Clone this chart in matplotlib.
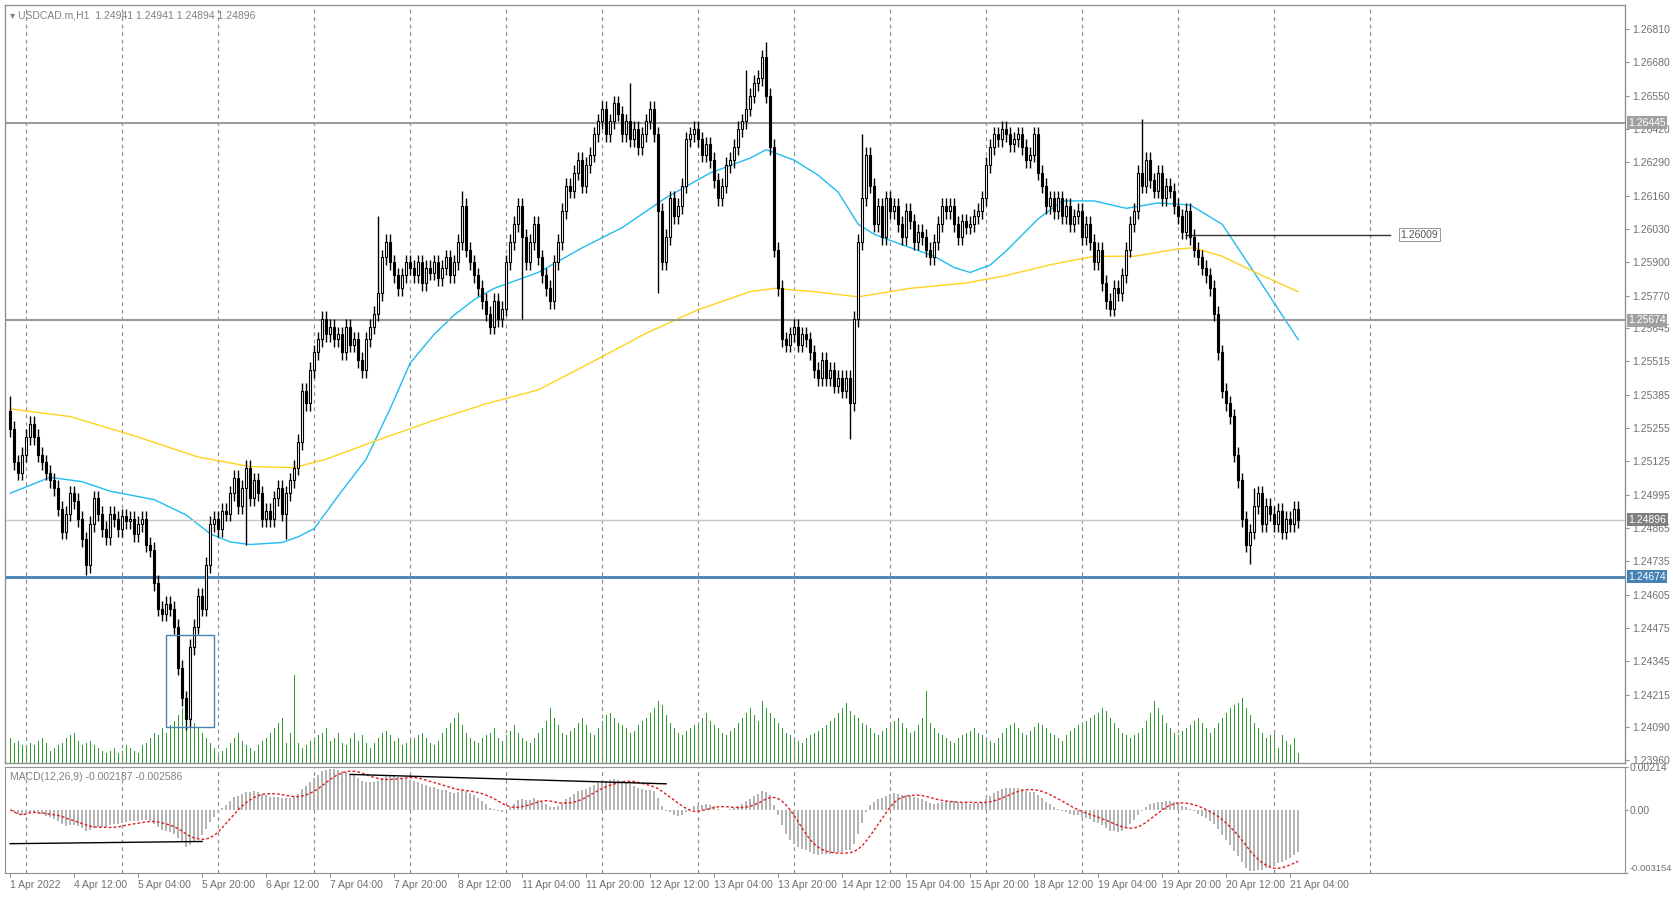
import numpy as np
import matplotlib
matplotlib.use("Agg")
import matplotlib.pyplot as plt
from matplotlib.patches import Rectangle

plt.rcParams["font.family"] = ["Liberation Sans", "DejaVu Sans"]

# ---------------- data ----------------
closes = [
 1.2525,1.2512,1.2508,1.2515,1.2522,1.2527,1.2522,1.2515,1.2512,1.2508,
 1.2505,1.2502,1.2494,1.2485,1.2492,1.2500,1.2497,1.2490,1.2482,1.2472,
 1.2488,1.2498,1.2492,1.2486,1.2483,1.2492,1.2490,1.2486,1.2491,1.2489,
 1.2490,1.2484,1.2488,1.2490,1.2480,1.2478,1.2465,1.2455,1.2453,1.2457,
 1.2455,1.2448,1.2432,1.2420,1.2412,1.2440,1.2448,1.2460,1.2455,1.2472,
 1.2488,1.2490,1.2486,1.2493,1.2492,1.2500,1.2506,1.2495,1.2502,1.2510,
 1.2498,1.2505,1.2500,1.2490,1.2493,1.2490,1.2498,1.2502,1.2492,1.2500,
 1.2505,1.2510,1.2520,1.2540,1.2535,1.2548,1.2555,1.2560,1.2568,1.2562,
 1.2565,1.2560,1.2562,1.2555,1.2565,1.2558,1.2560,1.2552,1.2548,1.2560,
 1.2565,1.2570,1.2578,1.2592,1.2598,1.2590,1.2585,1.2580,1.2585,1.2590,
 1.2588,1.2585,1.2590,1.2582,1.2588,1.2586,1.2590,1.2584,1.2588,1.2592,
 1.2585,1.2590,1.2598,1.2612,1.2595,1.2590,1.2585,1.2580,1.2575,1.2570,
 1.2565,1.2575,1.2568,1.2572,1.2590,1.2598,1.2605,1.2612,1.2600,1.2590,
 1.2598,1.2605,1.2592,1.2585,1.2580,1.2575,1.2590,1.2598,1.2610,1.2620,
 1.2618,1.2625,1.2630,1.2620,1.2628,1.2632,1.2640,1.2645,1.2650,1.2640,
 1.2645,1.2652,1.2648,1.2640,1.2645,1.2638,1.2642,1.2635,1.2640,1.2645,
 1.2650,1.2640,1.2610,1.2590,1.2600,1.2615,1.2608,1.2612,1.2620,1.2638,
 1.2640,1.2642,1.2638,1.2632,1.2636,1.2630,1.2622,1.2615,1.2620,1.2628,
 1.2630,1.2635,1.2642,1.2645,1.2650,1.2655,1.2660,1.2662,1.2670,1.2655,
 1.2635,1.2595,1.2580,1.2560,1.2558,1.2562,1.2565,1.2558,1.2562,1.2560,
 1.2555,1.2548,1.2545,1.2552,1.2545,1.2548,1.2542,1.2545,1.2540,1.2545,
 1.2535,1.2568,1.2598,1.2615,1.2632,1.2620,1.2605,1.2612,1.2600,1.2615,
 1.2610,1.2612,1.2605,1.2600,1.2610,1.2606,1.2598,1.2602,1.2600,1.2595,
 1.2592,1.2598,1.2605,1.2612,1.2610,1.2612,1.2605,1.2600,1.2606,1.2604,
 1.2605,1.2608,1.2610,1.2615,1.2628,1.2635,1.2640,1.2638,1.2642,1.2640,
 1.2636,1.2638,1.2640,1.2635,1.2630,1.2632,1.2640,1.2625,1.2620,1.2612,
 1.2615,1.2610,1.2615,1.2608,1.2612,1.2605,1.2608,1.2610,1.2600,1.2605,
 1.2598,1.2590,1.2595,1.2582,1.2575,1.2572,1.2580,1.2578,1.2585,1.2595,
 1.2605,1.2610,1.2625,1.2620,1.2630,1.2622,1.2618,1.2625,1.2615,1.2620,
 1.2618,1.2612,1.2608,1.2602,1.2610,1.2600,1.2595,1.2592,1.2588,1.2585,
 1.2580,1.2570,1.2555,1.2540,1.2535,1.2530,1.2515,1.2505,1.2490,1.2480,
 1.2485,1.2495,1.2500,1.2488,1.2495,1.2492,1.2488,1.2493,1.2485,1.2490,
 1.2488,1.2494,1.24896]
first_open = 1.2532
wick = 0.0003
high_override = {189: 1.2676, 184: 1.2665, 155: 1.2660, 113: 1.2618, 283: 1.2646,
                 213: 1.2640, 0: 1.2538, 311: 1.2502, 92: 1.2608}
low_override = {210: 1.2521, 44: 1.24075, 310: 1.24725, 162: 1.2578, 19: 1.2468,
                 59: 1.2480, 69: 1.2482, 128: 1.2568}

volumes = [
 25,20,22,18,15,20,18,22,25,20, 12,15,18,20,25,28,30,22,18,20,
 22,18,15,12,10,12,15,10,12,18, 15,12,10,18,20,25,30,28,35,30,
 38,42,48,55,60,45,40,35,30,25, 20,15,10,12,15,20,25,30,22,18,
 15,12,18,22,25,30,35,40,45,20, 30,88,20,15,18,22,25,28,30,35,
 22,25,30,20,18,25,30,22,28,20, 15,20,25,30,32,28,22,25,18,20,
 22,25,28,30,25,20,18,22,30,35, 40,45,50,38,30,25,22,20,25,28,
 30,35,25,22,28,32,38,30,25,22, 20,25,30,35,42,55,45,38,30,28,
 32,35,40,45,38,30,28,35,42,48, 50,45,40,38,35,30,32,38,42,45,
 50,55,62,58,48,40,35,30,28,32, 35,38,40,45,50,42,38,35,30,28,
 32,35,40,45,50,55,48,42,62,55, 50,45,40,35,30,28,25,22,20,25,
 28,30,32,35,38,42,45,50,55,60, 52,48,45,40,38,35,30,28,32,35,
 38,42,45,40,35,30,32,38,45,72, 40,35,30,28,25,22,20,25,28,30,
 32,35,30,28,25,22,20,25,30,35, 38,40,35,30,28,32,36,40,38,35,
 30,28,25,22,28,32,35,38,40,42, 45,48,50,55,52,45,40,35,30,28,
 25,28,30,35,42,50,62,55,48,40, 35,30,28,32,35,38,42,45,40,35,
 30,35,40,45,50,55,58,60,65,55, 48,40,35,30,25,28,30,15,28,22,
 18,25,10]

time_labels = ["1 Apr 2022", "4 Apr 12:00", "5 Apr 04:00", "5 Apr 20:00", "6 Apr 12:00",
               "7 Apr 04:00", "7 Apr 20:00", "8 Apr 12:00", "11 Apr 04:00", "11 Apr 20:00",
               "12 Apr 12:00", "13 Apr 04:00", "13 Apr 20:00", "14 Apr 12:00", "15 Apr 04:00",
               "15 Apr 20:00", "18 Apr 12:00", "19 Apr 04:00", "19 Apr 20:00", "20 Apr 12:00",
               "21 Apr 04:00"]

ma_fast_idx = [0,10,18,25,36,44,50,55,60,68,72,76,82,89,95,100,106,111,116,121,132,143,153,164,
               175,185,189,196,202,207,212,216,220,231,236,240,245,249,257,263,271,279,287,295,
               303,311,322]
ma_fast_val = [1.25000,1.25062,1.25045,1.25008,1.24975,1.24915,1.24842,1.24810,1.24800,1.24808,
               1.24830,1.24862,1.24990,1.25133,1.25330,1.25508,1.25620,1.25695,1.25755,1.25799,
               1.25861,1.25957,1.26036,1.26153,1.26249,1.26307,1.26340,1.26299,1.26240,1.26174,
               1.26049,1.26010,1.25986,1.25924,1.25880,1.25861,1.25890,1.25945,1.26070,1.26140,
               1.26140,1.26111,1.26132,1.26124,1.26049,1.25861,1.25599]
ma_slow_idx = [0,15,31,47,60,71,79,92,105,119,132,145,159,172,185,191,201,212,225,239,249,260,
               271,281,292,296,303,313,322]
ma_slow_val = [1.25329,1.25299,1.25224,1.25141,1.25104,1.25100,1.25133,1.25208,1.25279,1.25349,
               1.25403,1.25508,1.25624,1.25716,1.25786,1.25799,1.25786,1.25766,1.25799,1.25820,
               1.25849,1.25891,1.25924,1.25924,1.25953,1.25957,1.25924,1.25849,1.25786]

price_ticks = [1.26810,1.26680,1.26550,1.26420,1.26290,1.26160,1.26030,1.25900,1.25770,1.25645,
               1.25515,1.25385,1.25255,1.25125,1.24995,1.24865,1.24735,1.24605,1.24475,1.24345,
               1.24215,1.24090,1.23960]
level_upper = 1.26445
level_mid = 1.25674
level_support = 1.24674
last_price = 1.24896
alert_price = 1.26009
box_bars = (39, 51)
box_prices = (1.24088, 1.24446)

# ---------------- figure ----------------
W, H = 1673, 897
fig = plt.figure(figsize=(W/100, H/100), dpi=100)
fig.patch.set_facecolor("white")
ax = fig.add_axes([5/W, (H-763)/H, 1620/W, 758/H])
axm = fig.add_axes([5/W, (H-873)/H, 1620/W, 106/H])

n = len(closes)
x = np.arange(n)
c = np.array(closes)
o = np.concatenate([[first_open], c[:-1]])
hi = np.maximum(o, c) + wick
lo = np.minimum(o, c) - wick
for k, v in high_override.items(): hi[k] = v
for k, v in low_override.items(): lo[k] = v

xlim = (-1.3, 403.7)
ylim = (1.23948, 1.26904)

axv = ax.twinx()
axv.bar(x, volumes, width=0.35, color="#2e9b2e", zorder=1)
axv.set_ylim(0, 760)
axv.set_yticks([])
axv.set_zorder(0)
ax.set_zorder(1)
ax.patch.set_visible(False)

for i in range(n):
    up = c[i] >= o[i]
    ax.vlines(i, lo[i], hi[i], color="black", lw=1, zorder=3)
    b0, b1 = min(o[i], c[i]), max(o[i], c[i])
    if b1 - b0 < 0.00004: b1 = b0 + 0.00004
    ax.add_patch(Rectangle((i-0.32, b0), 0.64, b1-b0, facecolor="white" if up else "black",
                           edgecolor="black", lw=0.8, zorder=4))

ax.plot(ma_fast_idx, ma_fast_val, color="#1ebcf0", lw=1, zorder=2)
ax.plot(ma_slow_idx, ma_slow_val, color="#ffd21e", lw=1, zorder=2)

ax.axhline(level_upper, color="#9b9b9b", lw=1.5, zorder=2)
ax.axhline(level_mid, color="#9b9b9b", lw=1.5, zorder=2)
ax.axhline(last_price, color="#c8c8c8", lw=1, zorder=2)
ax.axhline(level_support, color="#4682b4", lw=2, zorder=2)
ax.plot([294, 345], [alert_price, alert_price], color="#333333", lw=1, zorder=2)
ax.text(347.5, alert_price, "1.26009", fontsize=7.5, color="#555555",
        va="center", ha="left", bbox=dict(boxstyle="square,pad=0.15", fc="white", ec="#888888", lw=0.6))
ax.add_patch(Rectangle((box_bars[0], box_prices[0]), box_bars[1]-box_bars[0], box_prices[1]-box_prices[0],
                       fill=False, edgecolor="#4682b4", lw=1, zorder=5))

grid_bars = list(range(4, 341, 24))
for a in (ax, axm):
    for g in grid_bars:
        a.axvline(g, color="#909090", lw=0.9, ls=(0, (3, 3)), zorder=0)
    a.set_xlim(*xlim)
    for s in a.spines.values():
        s.set_color("#909090")

ax.set_ylim(*ylim)
axv.set_xlim(*xlim)
ax.yaxis.tick_right()
ax.set_yticks(price_ticks)
ax.set_yticklabels([f"{t:.5f}" for t in price_ticks], fontsize=7.5, color="#707070")
ax.tick_params(axis="y", length=3, color="#909090", pad=2)
ax.set_xticks([])

def tag(a, val, bg):
    a.text(1.002, val, f"{val:.5f}", transform=a.get_yaxis_transform(), fontsize=7.5, color="white",
           va="center", ha="left", zorder=10, clip_on=False,
           bbox=dict(boxstyle="square,pad=0.15", fc=bg, ec="none"))
tag(ax, level_upper, "#a0a0a0")
tag(ax, level_mid, "#a0a0a0")
tag(ax, last_price, "#808080")
tag(ax, level_support, "#4682b4")

ax.text(0.003, 0.993, "\u25be USDCAD.m,H1  1.24941 1.24941 1.24894 1.24896", transform=ax.transAxes,
        fontsize=7.5, color="#808080", va="top", ha="left")

# MACD computed from the closes
def ema(v, span):
    a_ = 2/(span+1); out = np.empty_like(v); out[0] = v[0]
    for i in range(1, len(v)): out[i] = a_*v[i] + (1-a_)*out[i-1]
    return out
macd = ema(c, 12) - ema(c, 26)
sig = np.convolve(macd, np.ones(9)/9, mode="full")[:n]
sig[:8] = macd[:8]
axm.bar(x, macd, width=0.6, color="#b4b4b4", zorder=2)
axm.plot(x, sig, color="#e02020", lw=1, ls=(0, (2, 1.5)), zorder=3)
axm.plot([0, 48], [-0.00169, -0.00158], color="black", lw=1, zorder=4)
axm.plot([85, 164], [0.00177, 0.00130], color="black", lw=1, zorder=4)
axm.set_ylim(-0.003154, 0.00214)
axm.yaxis.tick_right()
axm.set_yticks([0.00214, 0.0, -0.003154])
axm.set_yticklabels(["0.00214", "0.00", "-0.003154"], fontsize=7.5, color="#707070")
lbl = axm.get_yticklabels()[2]
lbl.set_va("bottom"); lbl.set_fontsize(6.8)
axm.tick_params(axis="y", length=2, color="#909090", pad=1)
axm.set_xticks(np.arange(0, 16*len(time_labels), 16))
axm.set_xticklabels(time_labels, fontsize=7.5, color="#707070", ha="left")
axm.tick_params(axis="x", length=3, color="#909090", pad=2)
axm.text(0.003, 0.95, "MACD(12,26,9) -0.002187 -0.002586", transform=axm.transAxes,
         fontsize=7.5, color="#808080", va="top", ha="left")

fig.savefig("out.png", dpi=100)
